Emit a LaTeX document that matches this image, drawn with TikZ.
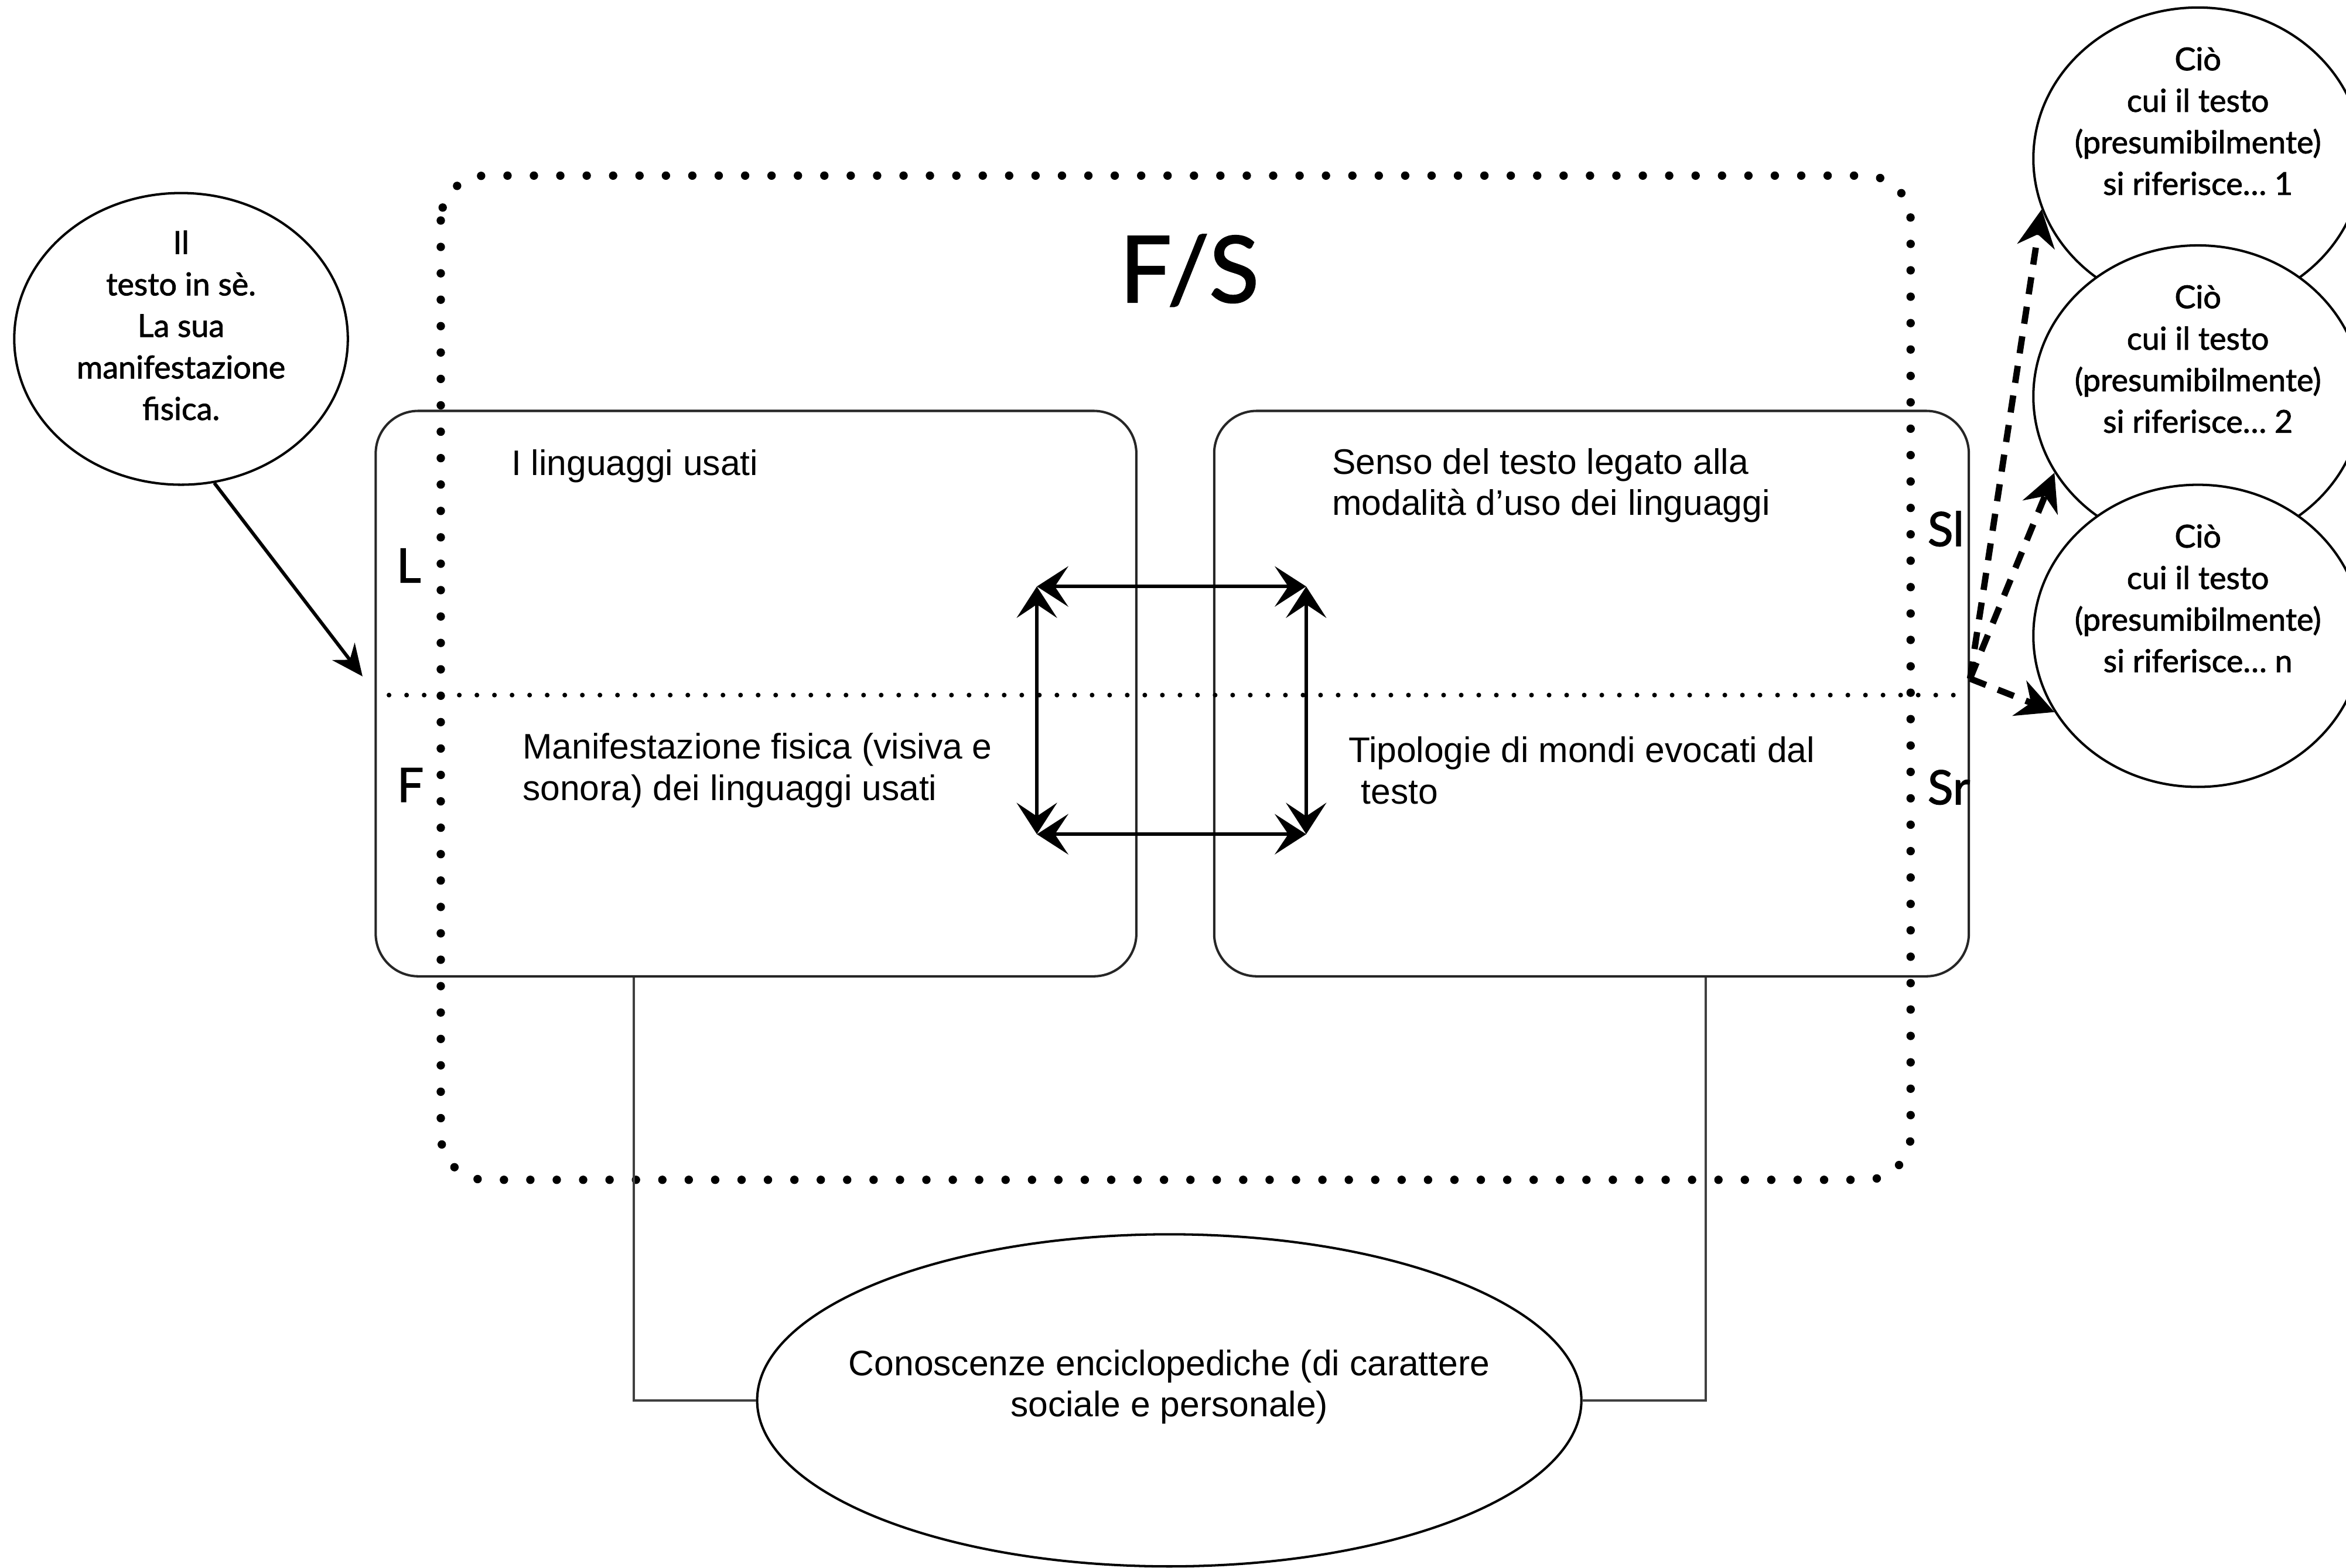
\documentclass[tikz,border=0pt]{standalone}
\usepackage{fontspec}
\setmainfont{Liberation Sans}
\newfontfamily\gillfont[FakeBold=1.6]{Lato}
\usetikzlibrary{arrows.meta}
\usetikzlibrary{shapes}
\tikzset{bubble/.style={ellipse,draw=black,line width=0.9pt,fill=white,inner sep=0pt},
 bubbletext/.style={align=center,inner sep=0pt,font=\gillfont\fontsize{12pt}{15.8pt}\selectfont},
 panel/.style={rectangle,draw=black!85,line width=0.9pt,rounded corners=0.57cm,
   inner sep=0pt,minimum width=10.17cm,minimum height=7.56cm},
 paneltext/.style={align=left,inner sep=0pt,font=\fontsize{13.5pt}{15.7pt}\selectfont},
 sidelabel/.style={inner sep=0pt,anchor=base west,font=\gillfont\fontsize{18pt}{20pt}\selectfont},
 fsframe/.style={line width=3.2pt,line cap=round,dash pattern=on 0pt off 0.353cm,rounded corners=0.6cm},
 divider/.style={line width=1.8pt,line cap=round,dash pattern=on 0pt off 0.235cm},
 drop/.style={draw=black!75,line width=0.9pt},
 twoway/.style={line width=1.3pt,
   {Stealth[length=0.42cm,width=0.54cm,inset=0.18cm]}-{Stealth[length=0.42cm,width=0.54cm,inset=0.18cm]}},
 pointer/.style={line width=1.3pt,-{Stealth[length=0.42cm,width=0.38cm,inset=0.14cm]}},
 refers/.style={line width=2.4pt,dash pattern=on 0.23cm off 0.17cm,-{Stealth[length=0.5cm,width=0.5cm]}},
}

\begin{document}
\begin{tikzpicture}[x=0.02cm,y=-0.02cm]
    \useasboundingbox (0,0) rectangle (1568,1048);

    % the text itself
    \node[bubble,minimum width=4.46cm,minimum height=3.9cm] (self) at (121,226.5) {};
    \node[bubbletext] (selftxt) at ([yshift=0.18cm]self.center) {Il\\testo in sè.\\La sua\\manifestazione\\fisica.};

    % the two halves
    \node[panel] (lbox) at (505.3,463.6) {};
    \node[panel,minimum width=10.09cm] (rbox) at (1063.7,463.6) {};
    \draw[divider] (260,464.6) -- (1310,464.6);
    \draw[fsframe] (294.6,117.4) rectangle (1277,788.6);

    \node[inner sep=0pt,anchor=base west,font=\gillfont\fontsize{35pt}{38pt}\selectfont] (fs) at (748,202) {F/S};
    \node[sidelabel] (lab) at (264.7,389.3) {L};
    \node[sidelabel] (fab) at (265,536) {F};
    \node[sidelabel] (slab) at (1288,365) {Sl};
    \node[sidelabel] (srab) at (1288,537.6) {Sr};

    \node[paneltext,anchor=base west] (lang) at (341.5,317.7) {I linguaggi usati};
    \node[paneltext,anchor=west] (phys) at (349,515) {Manifestazione fisica (visiva e\\sonora) dei linguaggi usati};
    \node[paneltext,anchor=west] (sense) at (890,324.5) {Senso del testo legato alla\\modalità d’uso dei linguaggi};
    \node[paneltext,anchor=west] (worlds) at (901,515) {Tipologie di mondi evocati dal\\\hspace*{0.35em}testo};

    \coordinate (q1) at (693,392);
    \coordinate (q2) at (873,392);
    \coordinate (q3) at (873,557.6);
    \coordinate (q4) at (693,557.6);
    \draw[twoway] (q1) -- (q2);
    \draw[twoway] (q4) -- (q3);
    \draw[twoway] (q1) -- (q4);
    \draw[twoway] (q2) -- (q3);

    \coordinate (selfend) at ([xshift=-0.16cm,yshift=0.23cm]lbox.west);
    \draw[pointer] (self.-77) -- (selfend);

    % encyclopedic knowledge
    \node[bubble,minimum width=11.02cm,minimum height=4.44cm] (enc) at (781.5,936) {};
    \node[paneltext,align=center] (enctxt) at ([yshift=0.18cm]enc.center) {Conoscenze enciclopediche (di carattere\\sociale e personale)};
    \draw[drop] ([xshift=3.47cm]lbox.south west) |- (enc.west);
    \draw[drop] ([xshift=6.59cm]rbox.south west) |- (enc.east);

    % referents
    \foreach \i/\y/\n in {1/106/1, 2/265/2, 3/425/n} {
        \node[bubble,minimum width=4.4cm,minimum height=4.04cm] (ref\i) at (1469,\y) {};
        \node[bubbletext] (reftxt\i) at ([yshift=0.5cm]ref\i.center) {Ciò\\cui il testo\\(presumibilmente)\\si riferisce… \n};
    }
    \coordinate (fan) at ([yshift=0.2cm]rbox.east);
    \draw[refers] (fan) -- (ref1.198);
    \draw[refers] (fan) -- (ref2.208);
    \draw[refers] (fan) -- (ref3.208);
\end{tikzpicture}
\end{document}
